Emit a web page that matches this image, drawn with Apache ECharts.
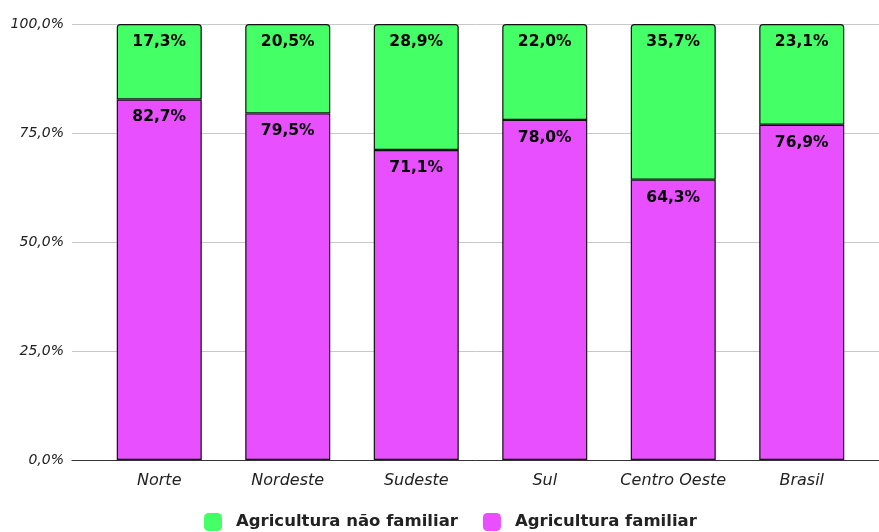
<!DOCTYPE html>
<html>
<head>
<meta charset="utf-8">
<script src="https://cdn.jsdelivr.net/npm/echarts@6/dist/echarts.min.js"></script>
<style>
  html, body { margin: 0; padding: 0; background: #fff; }
  #chart { width: 879px; height: 532px; }
</style>
</head>
<body>
<div id="chart"></div>
<script>
const categories = ['Norte', 'Nordeste', 'Sudeste', 'Sul', 'Centro Oeste', 'Brasil'];
const familiar = [82.7, 79.5, 71.1, 78.0, 64.3, 76.9];
const naoFamiliar = [17.3, 20.5, 28.9, 22.0, 35.7, 23.1];
const yTicks = [0, 25, 50, 75, 100];

const fmt = v => v.toFixed(1).replace('.', ',') + '%';
const FONT = "'DejaVu Sans', Verdana, sans-serif";

const chart = echarts.init(document.getElementById('chart'));
chart.setOption({
  animation: false,
  textStyle: { fontFamily: FONT },
  legend: {
    top: 508,
    left: 199,
    itemWidth: 18,
    itemHeight: 18,
    itemGap: 25,
    icon: 'roundRect',
    itemStyle: { borderWidth: 0 },
    textStyle: { fontFamily: FONT, fontSize: 16.5, fontWeight: 'bold', color: '#222', padding: [0, 0, 0, 9] },
    data: ['Agricultura não familiar', 'Agricultura familiar']
  },
  grid: [
    { left: 72, right: 0, top: 24, bottom: 72 },
    { left: 95, right: 13, top: 24, bottom: 72 }
  ],
  xAxis: [
    {
      gridIndex: 0, type: 'value', min: 0, max: 1, show: true,
      axisLine: { show: true, lineStyle: { color: '#333', width: 1 } },
      axisTick: { show: false }, axisLabel: { show: false }, splitLine: { show: false }
    },
    {
      gridIndex: 1, type: 'category', data: categories,
      axisLine: { show: false }, axisTick: { show: false },
      axisLabel: { interval: 0, fontFamily: FONT, fontStyle: 'italic', fontSize: 16, color: '#222', margin: 13 }
    }
  ],
  yAxis: [
    {
      gridIndex: 0, type: 'value', min: yTicks[0], max: yTicks[yTicks.length - 1], interval: 25,
      axisLine: { show: false }, axisTick: { show: false },
      axisLabel: { fontFamily: FONT, fontStyle: 'italic', fontSize: 14, color: '#222', margin: 8,
                   formatter: v => fmt(v) },
      splitLine: { lineStyle: { color: '#c8c8c8', width: 1 } }
    },
    {
      gridIndex: 1, type: 'value', min: 0, max: 100, interval: 25, show: false
    }
  ],
  series: [
    {
      name: 'Agricultura familiar', type: 'bar', stack: 'total',
      xAxisIndex: 1, yAxisIndex: 1, barWidth: 85,
      itemStyle: { color: '#e84fff', borderColor: '#111', borderWidth: 1.2 },
      label: { show: true, position: 'insideTop', distance: 10, fontFamily: FONT,
               fontSize: 15.5, fontWeight: 'bold', color: '#000', formatter: p => fmt(p.value) },
      data: familiar
    },
    {
      name: 'Agricultura não familiar', type: 'bar', stack: 'total',
      xAxisIndex: 1, yAxisIndex: 1, barWidth: 85,
      itemStyle: { color: '#44ff66', borderColor: '#111', borderWidth: 1.2, borderRadius: [3, 3, 0, 0] },
      label: { show: true, position: 'insideTop', distance: 10, fontFamily: FONT,
               fontSize: 15.5, fontWeight: 'bold', color: '#000', formatter: p => fmt(p.value) },
      data: naoFamiliar
    }
  ]
});
</script>
</body>
</html>
